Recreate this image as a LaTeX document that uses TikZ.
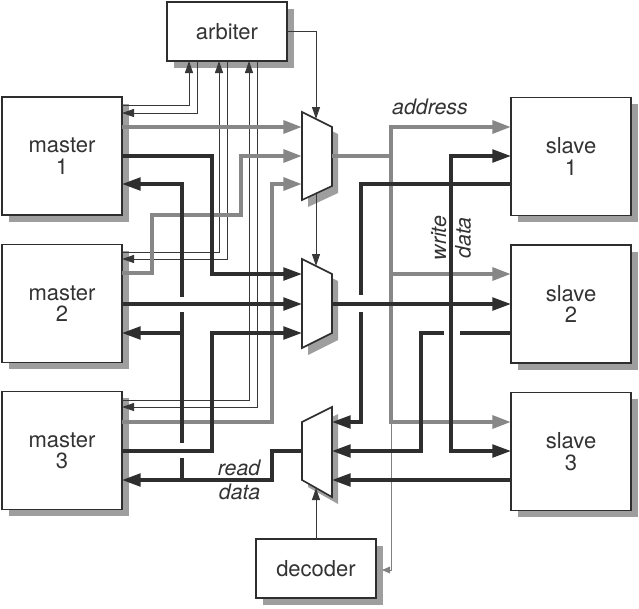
\documentclass[tikz,border=0pt]{standalone}
\usepackage{fontspec}
\setmainfont{TeX Gyre Heros}
\usetikzlibrary{arrows.meta,shadows}
\begin{document}
\begin{tikzpicture}[x=0.75pt,y=-0.75pt,
  box/.style={draw=black!82, line width=1.2pt, fill=white, inner sep=0pt, outer sep=0pt,
    minimum width=90pt, align=center, text=black!80, font=\fontsize{16.5}{16}\selectfont,
    drop shadow={shadow xshift=5pt, shadow yshift=-5pt, fill=black!38, opacity=1}},
  muxbody/.style={draw=black!82, line width=1.2pt, fill=white, line join=miter},
  muxshadow/.style={fill=black!38},
  ctl/.style={draw=black!78, line width=0.7pt},
  sarr/.style={-{Triangle[length=9pt,width=6pt]}},
  tarr/.style={-{Triangle[length=6pt,width=5pt]}},
  addr/.style={draw=black!47, line width=3pt},
  dat/.style={draw=black!82, line width=2.5pt},
  barr/.style={-{Triangle[length=14pt,width=9.5pt]}},
  barrs/.style={{Triangle[length=14pt,width=9.5pt]}-},
  barrb/.style={{Triangle[length=14pt,width=9.5pt]}-{Triangle[length=14pt,width=9.5pt]}},
  lab/.style={font=\fontsize{16}{14.3}\selectfont\itshape, text=black!80}
]
\useasboundingbox (0,0) rectangle (639,608);

% ---------- boxes ----------
\node[box, minimum height=44.25pt] (arb) at (227,31.5) {arbiter};
\node[box, minimum height=88.5pt] (m1) at (62,156) {master\\1};
\node[box, minimum height=88.5pt] (m2) at (62,303.5) {master\\2};
\node[box, minimum height=88.5pt] (m3) at (62,450.5) {master\\3};
\node[box, minimum height=88.5pt] (s1) at (571,156.5) {slave\\1};
\node[box, minimum height=88.5pt] (s2) at (571,304) {slave\\2};
\node[box, minimum height=88.5pt] (s3) at (571,451.5) {slave\\3};
\node[box, minimum height=44.25pt] (dec) at (316,568.5) {decoder};

% ---------- multiplexers ----------
\begin{scope}[shift={(6,7)}]
  \fill[muxshadow] (302,112) -- (332,127) -- (332,186) -- (302,200) -- cycle;
  \fill[muxshadow] (302,259) -- (332,274) -- (332,333) -- (302,348) -- cycle;
  \fill[muxshadow] (302,422) -- (332,407) -- (332,497) -- (302,480) -- cycle;
\end{scope}
\draw[muxbody] (302,112) -- (332,127) -- (332,186) -- (302,200) -- cycle;
\draw[muxbody] (302,259) -- (332,274) -- (332,333) -- (302,348) -- cycle;
\draw[muxbody] (302,422) -- (332,407) -- (332,497) -- (302,480) -- cycle;

\coordinate (x1a) at (302,127); \coordinate (x1b) at (302,156);
\coordinate (x1c) at (302,184); \coordinate (x1o) at (332,156);
\coordinate (x1t) at (316,119); \coordinate (x1d) at (316,193);
\coordinate (x2a) at (302,274); \coordinate (x2b) at (302,304);
\coordinate (x2c) at (302,333); \coordinate (x2o) at (332,304);
\coordinate (x2t) at (316,266);
\coordinate (x3a) at (332,422); \coordinate (x3b) at (332,451);
\coordinate (x3c) at (332,480); \coordinate (x3o) at (302,451);
\coordinate (x3d) at (316,488);
\coordinate (decin) at (382,570);

% ---------- thin control lines ----------
\draw[ctl, sarr] (m1.east|-0,105) -| (arb.south-|189,0);
\draw[ctl, sarr] (arb.south-|197,0) |- (m1.east|-0,113);
\draw[ctl, sarr] (m2.east|-0,252) -| (arb.south-|219,0);
\draw[ctl, sarr] (arb.south-|227,0) |- (m2.east|-0,259);
\draw[ctl, sarr] (m3.east|-0,400) -| (arb.south-|249,0);
\draw[ctl, sarr] (arb.south-|257,0) |- (m3.east|-0,407);
\draw[ctl, sarr] (arb.east|-0,31) -| (x1t);
\draw[ctl, sarr] (x1d) -- (x2t);
\draw[ctl, sarr] (dec.north) -- (x3d);
\draw[ctl, draw=black!50, tarr] (391,420) |- (decin);

% ---------- address (gray) ----------
\draw[addr, barr] (m1.east|-0,127) -- (x1a);
\draw[addr, barr] (m2.east|-0,273) -| (152,215) -| (241,156) -- (x1b);
\draw[addr, barr] (m3.east|-0,422) -| (272,184) -- (x1c);
\draw[addr, barr] (x1o) -| (391,127) -- (s1.west|-0,127);
\draw[addr, barr] (391,156) |- (s3.west|-0,422);
\draw[addr, barr] (391,274) -- (s2.west|-0,274);

% ---------- write data (black) ----------
\draw[dat, barr] (m1.east|-0,156) -| (212,274) -- (x2a);
\draw[dat, barr] (m2.east|-0,304) -- (x2b);
\draw[dat, barr] (m3.east|-0,451) -| (212,333) -- (x2c);
\draw[dat, barr] (x2o) -- (s2.west|-0,304);
\draw[dat, barrb] (s1.west|-0,156) -| (451,451) -- (s3.west|-0,451);

% ---------- read data (black) ----------
\draw[dat, barr] (x3o) -| (272,480) -- (m3.east|-0,480);
\draw[dat, barrs] (m1.east|-0,184) -| (182,297);
\draw[dat] (182,312) -- (182,443);
\draw[dat] (182,458) -- (182,480);
\draw[dat, barr] (182,333) -- (m2.east|-0,333);
\draw[dat] (s1.west|-0,184) -| (361,295);
\draw[dat, barr] (361,312) |- (x3a);
\draw[dat] (s2.west|-0,333) -- (460,333);
\draw[dat, barr] (444,333) -| (421,451) -- (x3b);
\draw[dat, barr] (s3.west|-0,480) -- (x3c);

% ---------- labels ----------
\node[lab] (laddr) at (430,107) {address};
\node[lab, rotate=90, align=center, font=\fontsize{16}{18.5}\selectfont\itshape] (lwd) at (451,238) {write\\data};
\node[lab, align=right, anchor=east, font=\fontsize{16}{18}\selectfont\itshape] (lrd) at (265,480) {read\\data};
\end{tikzpicture}
\end{document}
